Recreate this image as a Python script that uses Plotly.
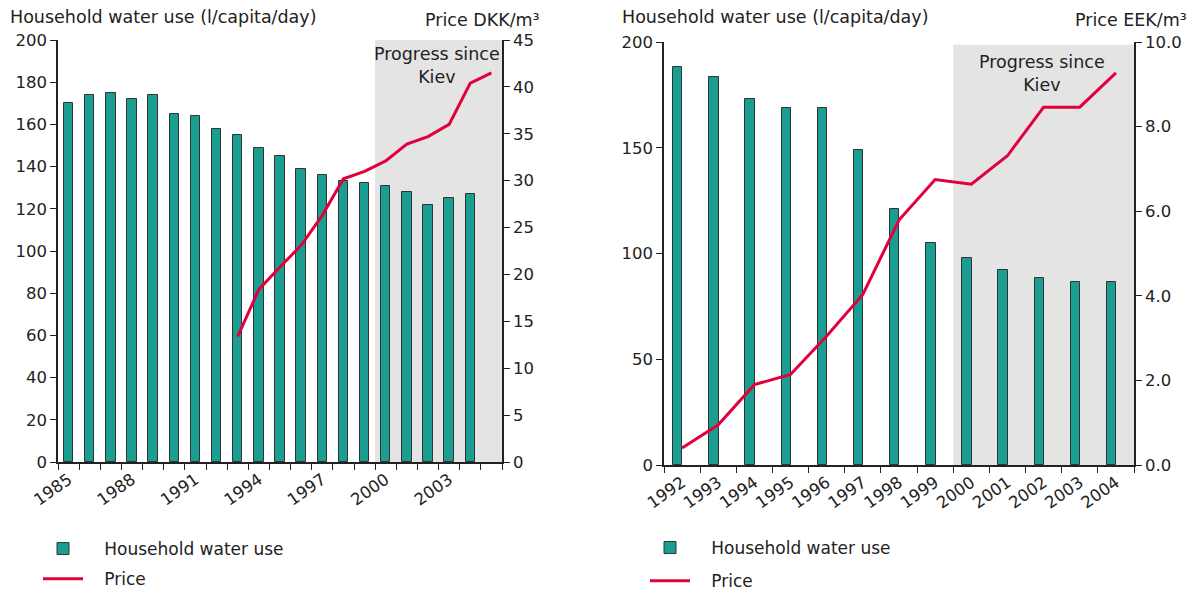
import plotly.graph_objects as go

# ---------------- data: left chart (Denmark) ----------------
dk_years = list(range(1985, 2005))
dk_water = [170, 174, 175, 172, 174, 165, 164, 158, 155, 149,
            145, 139, 136, 133, 132, 131, 128, 122, 125, 127]
dk_price_years = list(range(1993, 2006))
dk_price = [13.4, 18.4, 20.8, 23.1, 26.3, 30.2, 31.0, 32.1, 33.9, 34.7, 36.0, 40.4, 41.5]
dk_ticks = [1985, 1988, 1991, 1994, 1997, 2000, 2003]

# ---------------- data: right chart (Estonia) ----------------
ee_years = list(range(1992, 2005))
ee_water = [188, 183.5, 173, 169, 169, 149, 121, 105, 98, 92, 88.5, 86.5, 86.5]
ee_price = [0.40, 0.95, 1.90, 2.14, 3.05, 4.03, 5.79, 6.75, 6.64, 7.31, 8.46, 8.46, 9.27]

W, H = 1194, 591
FONT = "DejaVu Sans"
TEAL = "#1a9e92"
RED = "#e2003c"
SHADE = "#e4e4e4"
AX = "#222222"
PAD = "\u00a0\u00a0\u00a0"

def px_x(p):
    return p / W

def px_y(p):
    return 1 - p / H

fig = go.Figure()

# left chart traces
fig.add_trace(go.Bar(x=dk_years, y=dk_water, name=PAD + "Household water use",
                     marker=dict(color=TEAL, line=dict(color="#333333", width=1)),
                     width=0.45, xaxis="x", yaxis="y", legend="legend",
                     legendgroup="a"))
fig.add_trace(go.Scatter(x=dk_price_years, y=dk_price, name=PAD + "Price", mode="lines",
                         line=dict(color=RED, width=3), xaxis="x", yaxis="y2",
                         legend="legend", legendgroup="b"))

# right chart traces
fig.add_trace(go.Bar(x=ee_years, y=ee_water, name=PAD + "Household water use",
                     marker=dict(color=TEAL, line=dict(color="#333333", width=1)),
                     width=0.26, offset=-0.25, xaxis="x2", yaxis="y3", legend="legend2",
                     legendgroup="c"))
fig.add_trace(go.Scatter(x=ee_years, y=ee_price, name=PAD + "Price", mode="lines",
                         line=dict(color=RED, width=3), xaxis="x2", yaxis="y4",
                         legend="legend2", legendgroup="d"))

tickfont = dict(family=FONT, size=16.5, color=AX)

common_y = dict(showgrid=False, zeroline=False, showline=True, linecolor=AX, linewidth=1.5,
                ticks="outside", ticklen=6, tickcolor=AX, tickfont=tickfont, automargin=False)
common_x = dict(showgrid=False, zeroline=False, showline=True, linecolor=AX, linewidth=1.5,
                ticks="", tickfont=tickfont, tickangle=-35, automargin=False,
                minor=dict(ticks="outside", ticklen=6, tickcolor=AX, tick0=0.5, dtick=1))

TF = dict(family=FONT, size=17.5, color=AX)

fig.update_layout(
    width=W, height=H,
    margin=dict(l=0, r=0, t=0, b=0, autoexpand=False),
    paper_bgcolor="white", plot_bgcolor="white",
    font=dict(family=FONT, size=16, color=AX),
    bargap=0,
    xaxis=dict(common_x, domain=[px_x(58), px_x(502)], range=[1984.5, 2005.5],
               tickmode="array", tickvals=dk_ticks, anchor="y"),
    yaxis=dict(common_y, domain=[px_y(462), px_y(40)], range=[0, 200], dtick=20, anchor="x"),
    yaxis2=dict(common_y, overlaying="y", side="right", anchor="x", range=[0, 45], dtick=5),
    xaxis2=dict(common_x, domain=[px_x(664), px_x(1134)], range=[1991.5, 2004.5],
                tickmode="array", tickvals=ee_years, anchor="y3"),
    yaxis3=dict(common_y, domain=[px_y(465), px_y(42)], range=[0, 200], dtick=50, anchor="x2"),
    yaxis4=dict(common_y, overlaying="y3", side="right", anchor="x2", range=[0, 10], dtick=2,
                tickformat=".1f"),
    legend=dict(x=px_x(38), y=px_y(531), xanchor="left", yanchor="top",
                font=dict(family=FONT, size=17, color=AX), itemwidth=40,
                tracegroupgap=5, bgcolor="rgba(0,0,0,0)"),
    legend2=dict(x=px_x(645), y=px_y(530), xanchor="left", yanchor="top",
                 font=dict(family=FONT, size=17, color=AX), itemwidth=40,
                 tracegroupgap=8, bgcolor="rgba(0,0,0,0)"),
    shapes=[
        dict(type="rect", xref="x", yref="y", x0=1999.5, x1=2005.5, y0=0, y1=200,
             fillcolor=SHADE, line=dict(width=0), layer="below"),
        dict(type="rect", xref="x2", yref="y3", x0=1999.5, x1=2004.5, y0=0, y1=198.7,
             fillcolor=SHADE, line=dict(width=0), layer="below"),
    ],
    annotations=[
        dict(text="Household water use (l/capita/day)", xref="paper", yref="paper",
             x=px_x(8), y=px_y(17), xanchor="left", yanchor="middle", showarrow=False,
             font=TF),
        dict(text="Price DKK/m³", xref="paper", yref="paper",
             x=px_x(542), y=px_y(20), xanchor="right", yanchor="middle", showarrow=False,
             font=TF),
        dict(text="Household water use (l/capita/day)", xref="paper", yref="paper",
             x=px_x(620), y=px_y(17), xanchor="left", yanchor="middle", showarrow=False,
             font=TF),
        dict(text="Price EEK/m³", xref="paper", yref="paper",
             x=px_x(1073), y=px_y(20), xanchor="left", yanchor="middle", showarrow=False,
             font=TF),
        dict(text="Progress since<br>Kiev", xref="paper", yref="paper",
             x=px_x(437), y=px_y(65), xanchor="center", yanchor="middle", showarrow=False,
             font=TF),
        dict(text="Progress since<br>Kiev", xref="paper", yref="paper",
             x=px_x(1042), y=px_y(74), xanchor="center", yanchor="middle", showarrow=False,
             font=TF),
    ],
)

fig.write_html("out.html", config={"displayModeBar": False},
               post_script="document.body.style.margin='0';document.body.style.overflow='hidden';")
